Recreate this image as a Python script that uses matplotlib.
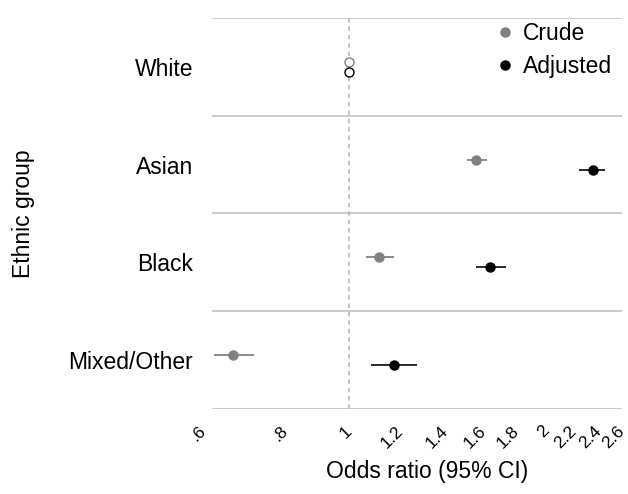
import matplotlib.pyplot as plt
import numpy as np
from matplotlib.lines import Line2D
from matplotlib.ticker import NullLocator

# Data
groups = ['White', 'Asian', 'Black', 'Mixed/Other']
is_reference = [True, False, False, False]
crude_or = [1.0, 1.56, 1.11, 0.667]
crude_lo = [1.0, 1.51, 1.06, 0.623]
crude_hi = [1.0, 1.62, 1.17, 0.718]
adj_or = [1.0, 2.35, 1.64, 1.17]
adj_lo = [1.0, 2.24, 1.56, 1.08]
adj_hi = [1.0, 2.45, 1.73, 1.27]
x_ticks = [0.6, 0.8, 1, 1.2, 1.4, 1.6, 1.8, 2, 2.2, 2.4, 2.6]
x_tick_labels = ['.6', '.8', '1', '1.2', '1.4', '1.6', '1.8', '2', '2.2', '2.4', '2.6']

plt.rcParams['font.family'] = ['Liberation Sans', 'DejaVu Sans']

fig = plt.figure(figsize=(6.28, 4.94), dpi=100)
ax = fig.add_axes([203 / 628, 85 / 494, 419 / 628, 391 / 494])

ypos = np.arange(len(groups))[::-1] + 1.0
ref = np.array(is_reference)
off = 0.05

series = [
    (np.array(crude_or), np.array(crude_lo), np.array(crude_hi), off, '#808080', '#8c8c8c', 'Crude'),
    (np.array(adj_or), np.array(adj_lo), np.array(adj_hi), -off, 'black', '#2a2a2a', 'Adjusted'),
]

handles = []
for est, lo, hi, dy, col, ci_col, name in series:
    m = ~ref
    ax.errorbar(est[m], ypos[m] + dy, xerr=[est[m] - lo[m], hi[m] - est[m]],
                fmt='o', color=col, ecolor=ci_col, elinewidth=1.4, capsize=0,
                markersize=6.5, zorder=3)
    # reference category drawn as hollow circle
    ax.plot(est[ref], ypos[ref] + dy, 'o', mfc='white', mec=col, mew=1.0,
            markersize=6.5, zorder=3)
    handles.append(Line2D([], [], marker='o', color=col, linestyle='none', markersize=6.5))

# group separators and reference line
for b in np.arange(0.5, len(groups) + 1, 1):
    ax.axhline(b, xmin=10 / 419, color='#c8c8c8', lw=1.3, zorder=1)
ax.axvline(1, color='#b4b4b4', ls=(0, (3, 2.5)), lw=1.1, zorder=1)

ax.set_xscale('log')
ax.set_xlim(0.6, 2.6)
ax.set_ylim(0.5, len(groups) + 0.5)
ax.set_xticks(x_ticks)
ax.set_xticklabels(x_tick_labels, fontsize=12.5)
ax.xaxis.set_minor_locator(NullLocator())
for lab in ax.get_xticklabels():
    lab.set_rotation(45)
    lab.set_ha('right')
    lab.set_va('center')
    lab.set_rotation_mode('anchor')
ax.set_yticks(ypos)
ax.set_yticklabels(groups, fontsize=16.5)
ax.tick_params(axis='y', length=0, pad=7)
ax.tick_params(axis='x', length=0, pad=14)
for s in ax.spines.values():
    s.set_visible(False)

ax.set_xlabel('Odds ratio (95% CI)', fontsize=16.5)
ax.xaxis.set_label_coords((427 - 203) / 419, -0.13)
ax.set_ylabel('Ethnic group', fontsize=16.5)
ax.yaxis.set_label_coords(-0.398 * 421 / 419, 0.5)

ax.legend(handles, ['Crude', 'Adjusted'], loc='upper left',
          bbox_to_anchor=(494 / 628, 1 - 22 / 494), bbox_transform=fig.transFigure,
          frameon=False, fontsize=16.5, handlelength=1.0, handletextpad=0.25,
          labelspacing=0.42, borderpad=0, borderaxespad=0)

plt.savefig('out.png', dpi=100)
